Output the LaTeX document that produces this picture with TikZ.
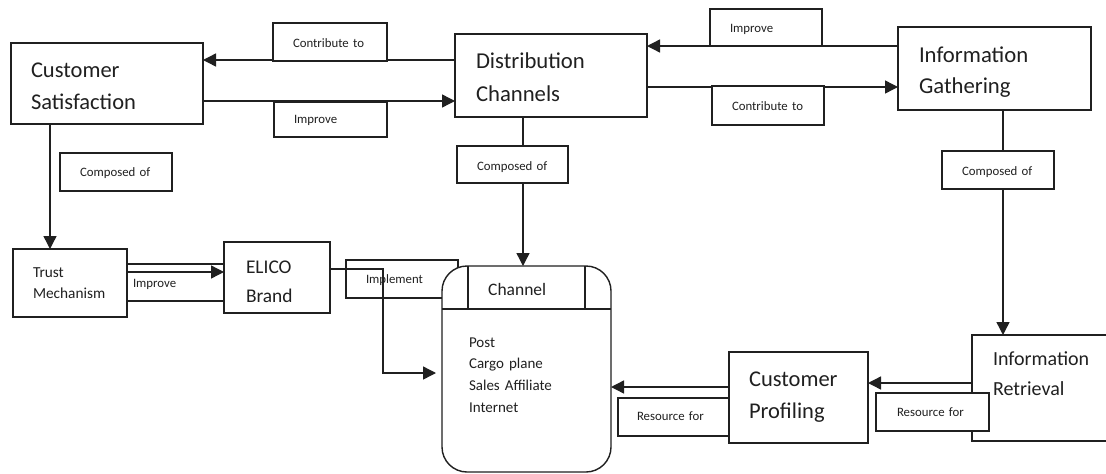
\documentclass[tikz,border=0pt]{standalone}
\usepackage{fontspec}
\setmainfont{Carlito}
\usetikzlibrary{arrows.meta}
\definecolor{ink}{HTML}{202020}

\begin{document}
\begin{tikzpicture}[x=1pt,y=-1pt,
  every node/.style={text=ink},
  box/.style={draw=ink, line width=1.4pt, fill=white, anchor=north west,
    align=left, inner ysep=0pt, outer sep=0pt},
  tag/.style={box, inner xsep=0pt, font=\fontsize{12.8}{15}\selectfont},
  lead/.style={execute at begin node={\hspace*{#1}}},
  link/.style={draw=ink, line width=1.4pt},
  arr/.style={link, -{Triangle[length=13pt,width=13pt]}},
]
\useasboundingbox (0,0) rectangle (1106,474);

% labels that sit underneath other shapes
\node[tag, fill=white, text width=97pt, lead=6pt, text height=23pt, text depth=14pt] (tIT) at (127,264) {Improve};
\node[tag, fill=none, text width=112pt, lead=20pt, text height=23pt, text depth=15pt] (tIM) at (346,260) {Implement};

% main concept boxes
\node[box, font=\fontsize{22.5}{32}\selectfont, text width=152pt, inner xsep=20pt,
      text height=34pt, text depth=47pt] (cs) at (11,43) {Customer\\Satisfaction};
\node[box, font=\fontsize{22.7}{33}\selectfont, text width=150pt, inner xsep=21pt,
      text height=34pt, text depth=49pt] (dc) at (455,34) {Distribution\\Channels};
\node[box, font=\fontsize{22.7}{31}\selectfont, text width=151pt, inner xsep=21pt,
      text height=35pt, text depth=48pt] (ig) at (898,27) {Information\\Gathering};
\node[box, font=\fontsize{15.3}{21}\selectfont, text width=74pt, inner xsep=20pt,
      text height=28pt, text depth=40pt] (tm) at (13,249) {Trust\\Mechanism};
\node[box, font=\fontsize{19.4}{29}\selectfont, text width=62pt, inner xsep=22pt,
      text height=31pt, text depth=40pt] (eb) at (224,242) {ELICO\\Brand};
\node[box, rounded corners=25pt, font=\fontsize{15}{21.7}\selectfont, text width=115pt, inner xsep=27pt,
      text height=81pt, text depth=125pt] (ch) at (442,266) {Post\\Cargo plane\\Sales Affiliate\\Internet};
\node[box, font=\fontsize{22.5}{32}\selectfont, text width=99pt, inner xsep=20pt,
      text height=34pt, text depth=57pt] (cp) at (729,352) {Customer\\Profiling};
\node[box, font=\fontsize{20}{30}\selectfont, text width=103pt, inner xsep=21pt,
      text height=30pt, text depth=76pt] (ir) at (972,335) {Information\\Retrieval};

% header band of the channel store
\draw[link] (ch.west |- 0,309) -- (ch.east |- 0,309);
\draw[link] (ch.north -| 468,0) -- (468,309);
\draw[link] (ch.north -| 585,0) -- (585,309);
\node[anchor=base west, inner sep=0pt, font=\fontsize{17.5}{20}\selectfont] (chh) at (488,295) {Channel};

% connectors
\coordinate (bend) at (383,373);
\draw[arr] (dc.west |- 0,60) -- (cs.east |- 0,60);
\draw[arr] (cs.east |- 0,101) -- (dc.west |- 0,101);
\draw[arr] (ig.west |- 0,46) -- (dc.east |- 0,46);
\draw[arr] (dc.east |- 0,87) -- (ig.west |- 0,87);
\draw[arr] (cs.south -| 50,0) -- (tm.north -| 50,0);
\draw[arr] (dc.south -| 523,0) -- (ch.north -| 523,0);
\draw[arr] (ig.south -| 1003,0) -- (ir.north -| 1003,0);
\draw[arr] (tm.east |- 0,272) -- (eb.west |- 0,272);
\draw[arr, shorten >=6pt] (eb.east |- 0,269) -| (bend) -- (ch.west |- bend);
\draw[arr] (cp.west |- 0,387) -- (ch.east |- 0,387);
\draw[arr] (ir.west |- 0,383) -- (cp.east |- 0,383);

% relation labels
\node[tag, text width=114pt, lead=20pt, text height=24pt, text depth=14pt] (tCL) at (273,23) {Contribute to};
\node[tag, text width=113pt, lead=20pt, text height=21pt, text depth=14pt] (tIL) at (274,102) {Improve};
\node[tag, text width=112pt, lead=20pt, text height=23pt, text depth=14pt] (tIR) at (710,9) {Improve};
\node[tag, text width=112pt, lead=20pt, text height=24pt, text depth=15pt] (tCR) at (712,86) {Contribute to};
\node[tag, text width=111pt, lead=20pt, text height=24pt, text depth=13pt] (tCD) at (457,146) {Composed of};
\node[tag, text width=112pt, lead=20pt, text height=24pt, text depth=14pt] (tCG) at (942,151) {Composed of};
\node[tag, text width=112pt, lead=20pt, text height=23pt, text depth=15pt] (tCS) at (60,153) {Composed of};
\node[tag, text width=111pt, lead=19pt, text height=22pt, text depth=16pt] (tRL) at (618,398) {Resource for};
\node[tag, text width=113pt, lead=21pt, text height=23pt, text depth=15pt] (tRR) at (876,393) {Resource for};
\end{tikzpicture}
\end{document}
